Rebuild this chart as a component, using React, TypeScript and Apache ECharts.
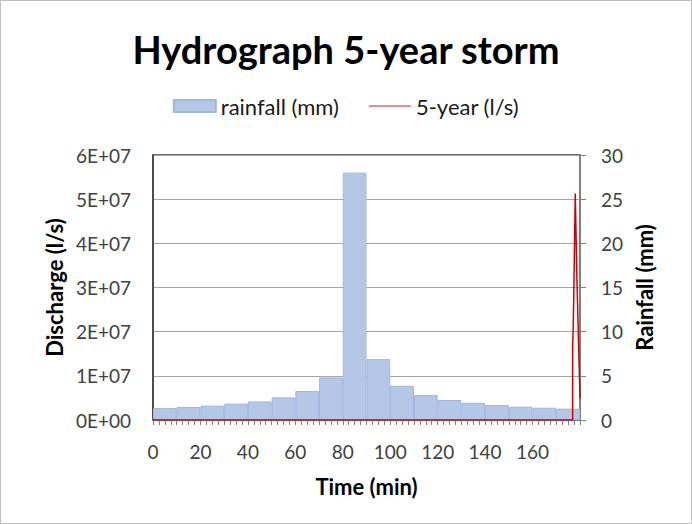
import React, { useEffect, useRef } from "react";
import * as echarts from "echarts";

const binLabels = ["0", "10", "20", "30", "40", "50", "60", "70", "80", "90", "100", "110", "120", "130", "140", "150", "160", "170"];
const rainfall = [1.34, 1.47, 1.62, 1.85, 2.1, 2.56, 3.28, 4.82, 28.0, 6.89, 3.88, 2.82, 2.26, 1.95, 1.69, 1.5, 1.39, 1.28];

const flowTime = [0, 176.9, 176.9, 177.0, 177.1, 177.4, 178.0, 178.7, 180.0];
const flowValue = [0, 0, 1.6e7, 1.86e7, 2.0e7, 2.9e7, 5.13e7, 3.2e7, 4.9e6];

const FONT = "Lato, 'Open Sans', sans-serif";

export default function App() {
  const ref = useRef<HTMLDivElement>(null);
  useEffect(() => {
    if (!ref.current) return;
    const chart = echarts.init(ref.current, null, { renderer: "svg" });
    const flowData = flowTime.map((t, i) => [t, flowValue[i]]);
    chart.setOption({
      animation: false,
      backgroundColor: "#ffffff",
      textStyle: { fontFamily: FONT },
      title: {
        text: "Hydrograph 5-year storm",
        left: "center",
        top: 25,
        textStyle: { fontSize: 38, fontWeight: "bold", color: "#000000", fontFamily: FONT },
      },
      legend: {
        top: 90,
        left: "center",
        itemWidth: 42,
        itemHeight: 12,
        itemGap: 30,
        textStyle: { fontSize: 22, color: "#1a1a1a", fontFamily: FONT },
        data: [
          { name: "rainfall (mm)", icon: "rect" },
          {
            name: "5-year (l/s)",
            icon: "path://M0 0 L42 0 L42 1.2 L0 1.2 Z",
            itemStyle: { color: "#d22020", borderWidth: 0 },
            lineStyle: { color: "#d22020" },
          },
        ],
      },
      grid: {
        left: 153,
        right: 112,
        top: 155,
        bottom: 104,
        show: true,
        borderColor: "#404040",
        borderWidth: 1.5,
      },
      xAxis: [
        {
          type: "value",
          min: 0,
          max: 180,
          interval: 20,
          name: "Time (min)",
          nameLocation: "middle",
          nameGap: 55,
          nameTextStyle: { fontSize: 22, fontWeight: "bold", color: "#000000", fontFamily: FONT },
          axisLine: { show: true, lineStyle: { color: "#808080", width: 1 } },
          axisTick: { show: true, length: 5, lineStyle: { color: "#808080" } },
          minorTick: { show: true, splitNumber: 8, length: 5, lineStyle: { color: "#808080" } },
          splitLine: { show: false },
          axisLabel: { fontSize: 19, color: "#404040", margin: 22, showMaxLabel: false, fontFamily: FONT },
        },
        {
          type: "category",
          data: binLabels,
          show: false,
          boundaryGap: true,
        },
      ],
      yAxis: [
        {
          type: "value",
          min: 0,
          max: 6e7,
          interval: 1e7,
          name: "Discharge (l/s)",
          nameLocation: "middle",
          nameGap: 88,
          nameTextStyle: { fontSize: 22, fontWeight: "bold", color: "#000000", fontFamily: FONT },
          axisLine: { show: true, lineStyle: { color: "#404040", width: 1.5 } },
          axisTick: { show: false },
          splitLine: { show: true, lineStyle: { color: "#a6a6a6", width: 1 } },
          axisLabel: {
            fontSize: 19,
            color: "#404040",
            margin: 22,
            fontFamily: FONT,
            formatter: (v: number) => (v === 0 ? "0E+00" : `${Math.round(v / 1e7)}E+07`),
          },
        },
        {
          type: "value",
          min: 0,
          max: 30,
          interval: 5,
          name: "Rainfall (mm)",
          nameLocation: "middle",
          nameGap: 52,
          nameRotate: 90,
          nameTextStyle: { fontSize: 22, fontWeight: "bold", color: "#000000", fontFamily: FONT },
          axisLine: { show: true, lineStyle: { color: "#808080", width: 2 } },
          axisTick: { show: true, length: 6, lineStyle: { color: "#808080" } },
          splitLine: { show: false },
          axisLabel: { fontSize: 19, color: "#404040", margin: 21, fontFamily: FONT },
        },
      ],
      series: [
        {
          name: "rainfall (mm)",
          type: "bar",
          xAxisIndex: 1,
          yAxisIndex: 1,
          data: rainfall,
          barCategoryGap: "0%",
          itemStyle: { color: "#b4c7e7", borderColor: "#9fb6df", borderWidth: 1 },
          z: 1,
        },
        {
          name: "5-year (l/s)",
          type: "line",
          xAxisIndex: 0,
          yAxisIndex: 0,
          data: flowData,
          symbol: "none",
          lineStyle: { color: "#cc0000", width: 1.5 },
          itemStyle: { color: "#cc0000" },
          z: 3,
        },
      ],
      graphic: [
        {
          type: "rect",
          shape: { x: 0.5, y: 0.5, width: 691, height: 523 },
          style: { fill: "none", stroke: "#bfbfbf", lineWidth: 1 },
          silent: true,
        },
      ],
    });
    return () => chart.dispose();
  }, []);
  return (
    <div
      ref={ref}
      style={{ position: "absolute", left: 0, top: 0, width: 692, height: 524 }}
    />
  );
}
